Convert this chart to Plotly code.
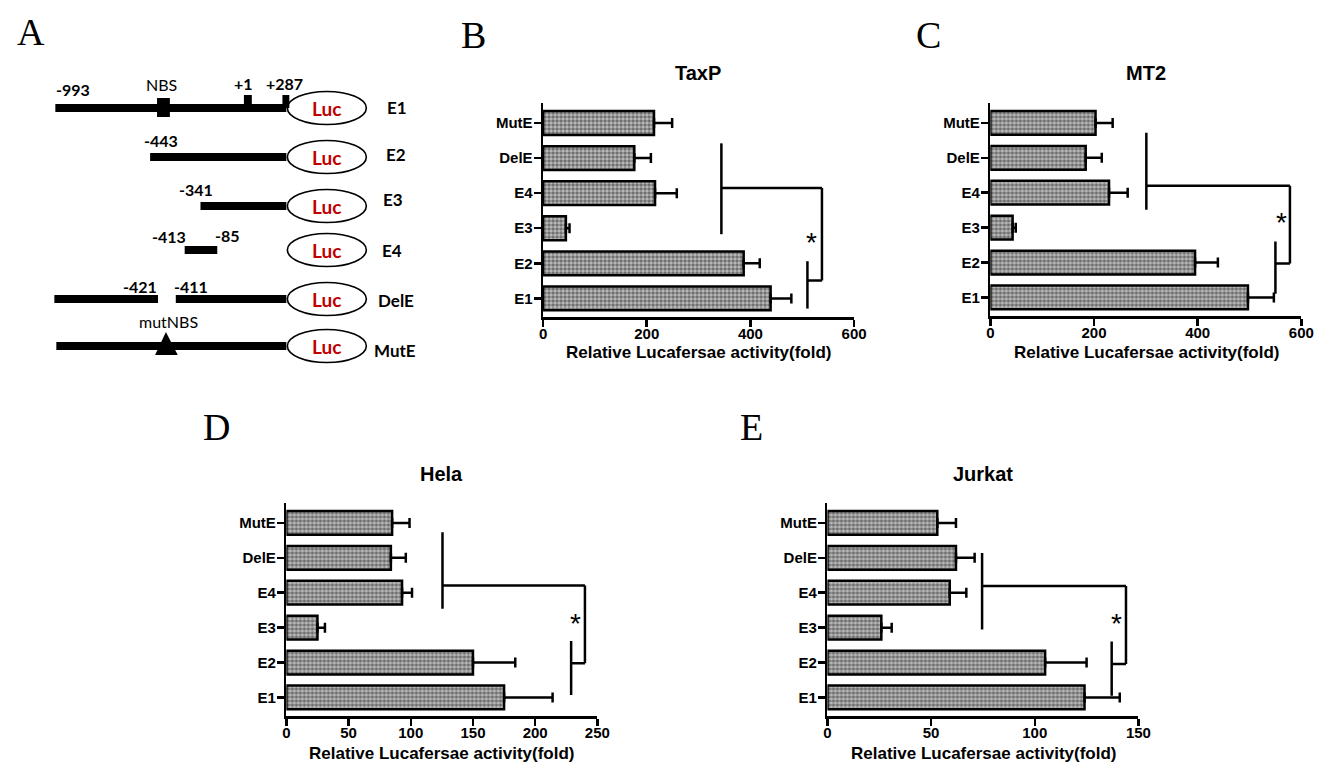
import plotly.graph_objects as go

# ---------------- data ----------------
constructs = ["E1", "E2", "E3", "E4", "DelE", "MutE"]
panel_names = ["TaxP", "MT2", "Hela", "Jurkat"]
panel_letters = ["B", "C", "D", "E"]

taxp_mean = [439, 387, 44, 216, 176, 214]
taxp_err_top = [479, 418, 51, 258, 208, 249]
mt2_mean = [497, 395, 43, 229, 184, 203]
mt2_err_top = [547, 439, 49, 265, 215, 236]
hela_mean = [175, 150, 25, 93, 84, 85]
hela_err_top = [214, 184, 31, 101, 96, 99]
jurkat_mean = [124, 105, 26, 59, 62, 53]
jurkat_err_top = [141, 125, 31, 67, 71, 62]

x_max = [600, 600, 250, 150]
x_dtick = [200, 200, 50, 50]

# significance brackets (data units): left bar x, left bar y-span, joining y,
# right x, right-bar lower y, lower bar x, lower bar y-span, star position
br_left_x = [344, 301, 125.5, 74.6]
br_left_y = [(1.83, 4.42), (2.51, 4.72), (2.54, 4.73), (1.95, 4.14)]
br_mid_y = [3.15, 3.2, 3.21, 3.19]
br_right_x = [538, 578, 240, 144]
br_right_low = [0.51, 0.97, 0.98, 0.96]
br_low_x = [510, 550, 228.9, 137.1]
br_low_y = [(-0.29, 1.06), (0.11, 1.6), (0.07, 1.62), (0.05, 1.6)]
star_xy = [(518, 1.8), (561, 2.34), (232.6, 2.33), (139.5, 2.31)]

xaxis_title = "Relative Lucafersae activity(fold)"

# ---------------- panel A schematic (page pixel units) ----------------
a_rows_y = [108, 157, 206, 250, 299, 346]
a_segments = [[(52, 286)], [(148, 286)], [(199, 286)], [(183, 216)],
              [(51, 156), (174, 286)], [(53, 286)]]
a_labels = [("-993", 70, 89, True), ("NBS", 160, 84, False), ("+1", 243, 83, True),
            ("+287", 284, 83, True), ("-443", 159, 140, True), ("-341", 194, 189, True),
            ("-413", 167, 236, True), ("-85", 226, 235, True), ("-421", 138, 286, True),
            ("-411", 189, 286, True), ("mutNBS", 167, 321, False)]
a_name_x = [398, 397, 394, 393, 397, 396]
a_name_y = [107, 154, 199, 250, 300, 350]

W, H = 1340, 762
means = [taxp_mean, mt2_mean, hela_mean, jurkat_mean]
tops = [taxp_err_top, mt2_err_top, hela_err_top, jurkat_err_top]
# plot areas in page pixels: (left, right, top, bottom)
areas = [(546, 861, 103, 317), (999, 1314, 103, 316), (286, 601, 503, 716), (834, 1149, 503, 716)]

fig = go.Figure()
FONT = "Liberation Sans"

for i in range(4):
    ax = "" if i == 0 else str(i + 1)
    fig.add_trace(go.Bar(
        x=means[i], y=list(range(6)), orientation="h",
        xaxis="x" + ax, yaxis="y" + ax, width=0.68,
        marker=dict(color="#808080", line=dict(color="black", width=2.5),
                    pattern=dict(shape=".", size=4, solidity=0.6,
                                 fgcolor="#1e1e1e", bgcolor="#c0c0c0")),
        error_x=dict(type="data", symmetric=False,
                     array=[t - m for t, m in zip(tops[i], means[i])],
                     arrayminus=[0] * 6, color="black", thickness=2.5, width=5),
        showlegend=False, hoverinfo="skip"))
    l, r, t, b = areas[i]
    axis_common = dict(showline=True, linewidth=2.5, linecolor="black", ticks="outside",
                       ticklen=7, tickwidth=2.5, tickcolor="black", showgrid=False,
                       zeroline=False,
                       tickfont=dict(family=FONT, size=15, color="black", weight="bold"))
    fig.update_layout(**{
        "xaxis" + ax: dict(domain=[l / W, r / W], range=[0, x_max[i]], dtick=x_dtick[i],
                           anchor="y" + ax, ticklabelstandoff=-6, **axis_common),
        "yaxis" + ax: dict(domain=[1 - b / H, 1 - t / H], range=[-0.53, 5.57],
                           tickvals=list(range(6)), ticktext=constructs,
                           anchor="x" + ax, ticklabelstandoff=-2, **axis_common),
    })
    # brackets
    xr, yr = "x" + ax, "y" + ax
    lw = dict(color="black", width=2.5)
    fig.add_shape(type="line", xref=xr, yref=yr, x0=br_left_x[i], x1=br_left_x[i],
                  y0=br_left_y[i][0], y1=br_left_y[i][1], line=lw)
    fig.add_shape(type="line", xref=xr, yref=yr, x0=br_left_x[i], x1=br_right_x[i],
                  y0=br_mid_y[i], y1=br_mid_y[i], line=lw)
    fig.add_shape(type="line", xref=xr, yref=yr, x0=br_right_x[i], x1=br_right_x[i],
                  y0=br_mid_y[i], y1=br_right_low[i], line=lw)
    fig.add_shape(type="line", xref=xr, yref=yr, x0=br_low_x[i], x1=br_right_x[i],
                  y0=br_right_low[i], y1=br_right_low[i], line=lw)
    fig.add_shape(type="line", xref=xr, yref=yr, x0=br_low_x[i], x1=br_low_x[i],
                  y0=br_low_y[i][0], y1=br_low_y[i][1], line=lw)
    fig.add_annotation(xref=xr, yref=yr, x=star_xy[i][0], y=star_xy[i][1], text="*",
                       showarrow=False, yshift=-7,
                       font=dict(family=FONT, size=28, color="black"))

# overlay pixel axis
fig.update_layout(
    xaxis5=dict(domain=[0, 1], range=[0, W], visible=False, anchor="y5", fixedrange=True),
    yaxis5=dict(domain=[0, 1], range=[H, 0], visible=False, anchor="x5", fixedrange=True),
)
fig.add_trace(go.Scatter(x=[0], y=[0], xaxis="x5", yaxis="y5", mode="markers",
                         marker=dict(opacity=0), showlegend=False, hoverinfo="skip"))

# titles / axis titles
title_pos = [(703, 73), (1157, 73), (443, 474), (992, 474)]
xt_pos = [(703, 352), (1157, 352), (443, 753), (992, 753)]
for i in range(4):
    fig.add_annotation(xref="x5", yref="y5", x=title_pos[i][0], y=title_pos[i][1],
                       text=panel_names[i], showarrow=False,
                       font=dict(family=FONT, size=20, color="black", weight="bold"))
    fig.add_annotation(xref="x5", yref="y5", x=xt_pos[i][0], y=xt_pos[i][1],
                       text=xaxis_title, showarrow=False,
                       font=dict(family=FONT, size=17, color="black", weight="bold"))

letter_pos = [(27, 32), (476, 35), (936, 35), (215, 427), (757, 427)]
for txt, (lx, ly) in zip(["A"] + panel_letters, letter_pos):
    fig.add_annotation(xref="x5", yref="y5", x=lx, y=ly, text=txt, showarrow=False,
                       font=dict(family="Liberation Serif", size=38, color="black"))

# panel A schematic
for yrow, segs in zip(a_rows_y, a_segments):
    for (s, e) in segs:
        fig.add_shape(type="rect", xref="x5", yref="y5", x0=s, x1=e, y0=yrow - 4, y1=yrow + 4,
                      fillcolor="black", line=dict(width=0))
    fig.add_shape(type="circle", xref="x5", yref="y5", x0=287, x1=367,
                  y0=yrow - 16.5, y1=yrow + 16.5, fillcolor="white",
                  line=dict(color="black", width=1.6))
    fig.add_annotation(xref="x5", yref="y5", x=327, y=yrow, text="Luc", showarrow=False,
                       font=dict(family="Lato", size=19, color="#c00000", weight="bold"))
fig.add_shape(type="rect", xref="x5", yref="y5", x0=155, x1=168, y0=98, y1=117,
              fillcolor="black", line=dict(width=0))
fig.add_shape(type="rect", xref="x5", yref="y5", x0=243, x1=251, y0=95, y1=108,
              fillcolor="black", line=dict(width=0))
fig.add_shape(type="rect", xref="x5", yref="y5", x0=282, x1=289, y0=95, y1=108,
              fillcolor="black", line=dict(width=0))
fig.add_shape(type="path", xref="x5", yref="y5", path="M 164 332 L 153 355 L 176 355 Z",
              fillcolor="black", line=dict(width=0))
for txt, lx, ly, bold in a_labels:
    fig.add_annotation(xref="x5", yref="y5", x=lx, y=ly, text=txt, showarrow=False,
                       font=dict(family="Lato", size=16, color="black",
                                 weight="bold" if bold else "normal"))
for name, nx, ny in zip(constructs, a_name_x, a_name_y):
    fig.add_annotation(xref="x5", yref="y5", x=nx, y=ny, text=name, showarrow=False,
                       font=dict(family="Lato", size=17, color="black", weight="bold"))

fig.update_layout(width=W, height=H, margin=dict(l=0, r=0, t=0, b=0),
                  paper_bgcolor="white", plot_bgcolor="rgba(0,0,0,0)", bargap=0.3)

fig.write_html("out.html", config={"displayModeBar": False, "staticPlot": True},
               post_script="document.body.style.margin='0';document.body.style.overflow='hidden';")
